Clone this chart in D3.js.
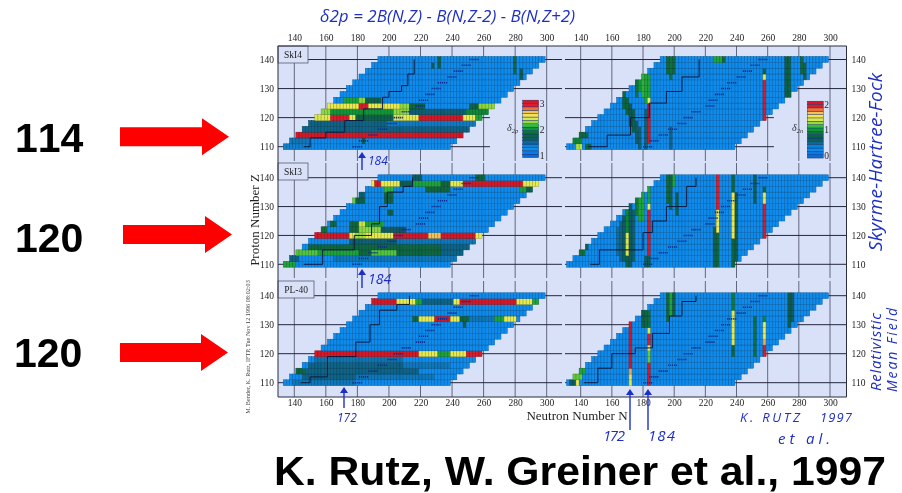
<!DOCTYPE html>
<html>
<head>
<meta charset="utf-8">
<script src="https://cdn.jsdelivr.net/npm/d3@7"></script>
<style>
html, body { margin: 0; padding: 0; background: white; }
svg { display: block; }
</style>
</head>
<body>
<div id="chart"></div>
<script>
// rows of the nuclear chart and where each row starts / stops
var zRows = [110,112,114,116,118,120,122,124,126,128,130,132,134,136,138,140];
var firstNLeft = [134,138,142,146,150,154,158,162,166,170,174,178,182,186,190,194];
var firstNRight = [132,136,140,144,148,152,156,160,164,168,172,176,180,184,188,192];
var lastN = [238,242,246,250,254,258,262,266,270,274,278,282,286,290,294,298];
var nTicks = [140,160,180,200,220,240,260,280,300];
var zTicks = [110,120,130,140];

// row runs are [Z, N from, N to, value], column runs are [N, Z from, Z to, value]
var ski4ProtonRows = [
  [110,134,152,1.35],[112,136,150,1.4],
  [114,140,250,3],
  [116,146,254,1.5],[118,150,200,1.5],[118,200,258,1.38],
  [120,152,164,2.4],[120,164,176,2.95],[120,176,180,2.4],[120,180,204,1.75],[120,204,220,2.42],[120,220,248,3],[120,248,256,2.42],[120,256,260,2.05],
  [122,156,164,2.25],[122,164,204,2.0],[122,204,214,2.25],[122,214,250,1.55],[122,250,264,1.95],
  [124,160,182,2.42],[124,182,188,2.95],[124,188,208,2.42],[124,208,214,2.25],[124,214,224,1.8],[124,252,258,1.75],[124,258,268,2.25],
  [126,172,182,2.05],[126,182,186,2.25],[126,186,196,1.75]
];
var ski4ProtonCols = [[184,112,118,1.7],[174,118,120,1.7],[232,138,140,1.75],[228,138,138,1.7],[280,136,140,1.8],[284,134,136,1.7]];

var ski3ProtonRows = [
  [110,132,142,2.05],[112,136,144,1.5],[112,166,256,1.4],
  [114,140,156,2.18],[114,156,182,2.05],[114,182,190,1.8],[114,190,206,2.18],[114,206,234,1.8],[114,234,250,1.5],
  [116,150,234,1.8],[116,234,252,1.5],
  [118,176,206,1.55],[118,206,256,1.4],
  [120,154,176,3],[120,176,180,2.42],[120,180,186,2.28],[120,186,204,2.42],[120,204,226,3],[120,226,234,2.65],[120,234,256,3],[120,256,260,2.42],
  [122,156,162,1.85],[122,176,182,1.8],[122,182,196,2.25],[122,196,212,1.6],
  [124,164,168,1.8],[124,176,182,1.8],[124,182,186,2.35],[124,186,198,2.05],
  [128,200,204,1.7],
  [132,176,180,2.2],[132,180,186,1.75],[132,198,204,1.75],
  [134,180,186,1.55],[134,198,204,1.8],
  [136,198,204,2.1],[136,224,240,1.8],[136,284,288,2.05],[136,288,292,1.7],
  [138,186,192,2.42],[138,192,196,3],[138,196,208,2.42],[138,208,216,1.7],[138,216,234,2.05],[138,234,240,1.8],[138,240,248,2.42],[138,248,286,3],[138,286,296,2.42],
  [140,216,222,1.6],[140,256,262,1.8]
];
var ski3ProtonCols = [];

var pl40ProtonRows = [
  [110,140,180,1.4],[112,146,180,1.5],[112,180,230,1.4],
  [114,142,148,1.8],[114,148,220,1.5],
  [116,150,210,1.5],[116,210,240,1.4],[118,154,210,1.42],
  [120,154,220,3],[120,220,232,2.42],[120,232,240,2.05],[120,240,250,2.42],[120,250,260,2.95],
  [130,248,250,1.7],
  [132,216,220,1.8],[132,220,230,2.42],[132,230,240,3],[132,240,246,2.42],[132,246,252,1.8],[132,252,268,1.4],[132,268,274,2.05],[132,274,282,2.42],
  [138,190,206,3],[138,206,218,2.42],[138,218,222,2.05],[138,222,242,1.5],[138,242,246,2.42],[138,246,282,3],[138,282,292,2.42],[138,292,296,2.05]
];
var pl40ProtonCols = [];

var ski4NeutronRows = [
  [110,138,142,1.3],[110,144,148,.8],
  [112,136,142,.95],[114,140,146,.8],
  [140,226,232,1.05],[140,232,234,.8]
];
var ski4NeutronCols = [
  [184,112,124,2],[184,126,126,1.45],[184,128,134,1.05],[182,126,136,1.05],[180,128,136,1.1],[178,130,136,1.0],[176,128,134,.85],
  [258,120,132,1.95],[258,134,134,1.45],[258,136,136,.8],
  [198,110,116,.5],[196,136,140,.8],[198,134,140,.85],[200,136,140,.8],
  [272,128,140,.7],[274,128,140,.75],[282,136,140,.8],[284,134,138,.75],
  [168,124,128,.8],[170,122,126,.8],[172,118,124,.65],[174,116,122,.7],[176,112,118,.6],[178,110,116,.55],[182,110,122,.55]
];

var ski3NeutronRows = [[114,140,144,.85],[116,142,146,.7]];
var ski3NeutronCols = [
  [182,110,112,.6],[184,110,112,.7],[184,114,128,2],[184,130,130,1.45],[184,132,136,1.05],
  [178,126,134,1.05],[180,126,134,1.05],[176,128,134,.9],
  [228,130,140,1.95],[228,122,128,1.45],[228,110,120,.8],[226,110,122,.7],
  [238,136,140,.8],[238,120,134,1.45],[238,110,118,.8],[240,110,134,.7],
  [258,120,130,1.95],[258,132,134,1.45],[258,136,136,.8],
  [170,114,120,1.4],[170,110,112,.75],[170,122,128,.95],[168,112,126,.6],[172,110,130,.6],[166,112,124,.5],[164,114,122,.45],[174,112,128,.55],
  [196,132,140,.8],[198,130,140,.75],[202,128,134,.7],[252,132,140,.7],[200,138,140,1.05]
];

var pl40NeutronRows = [[110,138,140,1.45],[110,134,138,.6],[112,136,142,1.2],[114,140,144,1.05]];
var pl40NeutronCols = [
  [172,116,130,2],[172,114,114,1.7],[172,112,112,1.55],[172,110,110,1.4],
  [184,110,116,2],[184,118,120,1.2],[184,122,122,1.45],[184,124,126,1.95],[184,128,128,1.4],[184,130,134,.85],[182,130,136,.8],[180,130,136,.7],
  [238,136,140,.9],[238,124,134,1.42],[238,120,122,.8],[252,120,132,.85],
  [258,120,122,1.95],[258,124,124,1.7],[258,126,130,1.45],[258,132,132,.95],
  [196,132,140,.8],[198,134,140,1.05],[200,134,140,.7],[274,130,140,.7],[276,132,140,.6]
];

// stepped dark line through each panel, N and Z of the corners
var stepN = [
  [146,150,160,172,184,196,200,208,212,216],
  [146,158,178,189,194,199,209,215],
  [144,150,161,179,188,194,205,213],
  [145,157,172,184,195,205,216],
  [146,152,180,186,195,208,214],
  [142,151,160,175,186,197,205,214]
];
var stepZ = [
  [110,113,115,119,123,127,129,131,135,140],
  [110,115,120,124,130,135,137,140],
  [110,112,119,124,130,135,137,140],
  [110,114,120,125,129,134,140],
  [110,115,121,125,130,137,140],
  [110,115,120,122,127,133,138,140]
];
// dotted stability line
var betaN = [180,184,190,196,202,206,211,220,222,226,230,234,240,244,249,254];

var panelNames = ["SkI4","SkI3","PL-40"];
var panelBoxWidth = [30,30,36];
var panelBand = [[46,161],[163,278],[281,397]];
var rowPixel = [[59.5,146.7],[177.7,264.3],[295.7,382.7]];
var rowData = [ski4ProtonRows,ski3ProtonRows,pl40ProtonRows,ski4NeutronRows,ski3NeutronRows,pl40NeutronRows];
var colData = [ski4ProtonCols,ski3ProtonCols,pl40ProtonCols,ski4NeutronCols,ski3NeutronCols,pl40NeutronCols];

var colorStops = [0,.1,.18,.25,.32,.42,.5,.58,.64,.72,.8,.87,.93,1];
var colorValues = ["#0868d8","#0c8cf0","#0c80d0","#0a6488","#0a5a58","#0c6c3c","#109838","#40c040","#a8e040","#f0ec50","#f4d860","#f09840","#e02030","#d81828"];
var color = d3.scaleLinear().domain(colorStops).range(colorValues).clamp(true);

var width = 902, height = 493;
var svg = d3.select("#chart").append("svg").attr("width", width).attr("height", height);

svg.append("defs").append("filter").attr("id", "scan")
  .attr("filterUnits", "userSpaceOnUse").attr("x", 0).attr("y", 0).attr("width", width).attr("height", height)
  .append("feGaussianBlur").attr("stdDeviation", 0.55);

var chart = svg.append("g").attr("filter", "url(#scan)");

chart.append("rect").attr("x", 278).attr("y", 46).attr("width", 568.5).attr("height", 351).attr("fill", "#d9e1f9");

function drawPanel(col, row) {
  var isLeft = col === 0;
  var x = d3.scaleLinear().domain([140,300]).range(isLeft ? [294.3,546.7] : [580.7,830]);
  var y = d3.scaleLinear().domain([140,110]).range(rowPixel[row]);
  var band = panelBand[row];
  var xEdge = isLeft ? [278,562] : [565,846.5];
  var g = chart.append("g");
  var runs = rowData[col * 3 + row], cols = colData[col * 3 + row];
  var base = isLeft ? 1.2 : 0.2;
  var low = isLeft ? 1 : 0;

  // grid
  g.selectAll(".v").data(nTicks).enter().append("line")
    .attr("x1", x).attr("x2", x).attr("y1", band[0]).attr("y2", band[1])
    .attr("stroke", "#62667c").attr("stroke-width", 1);
  g.selectAll(".h").data(zTicks).enter().append("line")
    .attr("x1", xEdge[0])
    .attr("x2", function(z) { return (row === 0 && z < 130) ? x(264) : xEdge[1]; })
    .attr("y1", y).attr("y2", y)
    .attr("stroke", "#23263a").attr("stroke-width", 1);

  var cells = [];
  zRows.forEach(function(z, i) {
    var first = isLeft ? firstNLeft[i] : firstNRight[i];
    d3.range(first, lastN[i] + 1, 2).forEach(function(n) {
      var v = base;
      cols.forEach(function(c) { if (c[0] === n && z >= c[1] && z <= c[2]) v = c[3]; });
      runs.forEach(function(r) { if (r[0] === z && n >= r[1] && n < r[2]) v = r[3]; });
      cells.push({n: n, z: z, v: v});
    });
  });

  g.selectAll(".cell").data(cells).enter().append("rect")
    .attr("x", function(d) { return x(d.n - 1); })
    .attr("y", function(d) { return y(d.z + 1); })
    .attr("width", function(d) { return x(d.n + 1) - x(d.n - 1); })
    .attr("height", function(d) { return y(d.z - 1) - y(d.z + 1); })
    .attr("fill", function(d) { return color((d.v - low) / 2); })
    .attr("stroke", function(d) { return d3.color(color((d.v - low) / 2)).darker(1.1); })
    .attr("stroke-width", 0.5);

  // stability line
  g.selectAll(".beta").data(zRows).enter().append("line")
    .attr("x1", function(z, i) { return x(betaN[i] + (isLeft ? -3 : 0)); })
    .attr("x2", function(z, i) { return x(betaN[i] + (isLeft ? 3 : 6)); })
    .attr("y1", y).attr("y2", y)
    .attr("stroke", "#0a2a90").attr("stroke-width", 1.6).attr("stroke-dasharray", "1.2 0.8");

  // stepped line
  var idx = col * 3 + row;
  var line = d3.line().curve(d3.curveStepAfter)
    .x(function(d) { return x(d[0]); }).y(function(d) { return y(d[1]); });
  g.append("path").attr("d", line(d3.zip(stepN[idx], stepZ[idx])))
    .attr("fill", "none").attr("stroke", "#0b1a40").attr("stroke-width", 1);

  // axes, tick labels only
  if (row === 0) {
    g.append("g").attr("transform", "translate(0,46)").call(d3.axisTop(x).tickValues(nTicks).tickSize(0).tickPadding(5)).call(tidyAxis);
  }
  if (row === 2) {
    g.append("g").attr("transform", "translate(0,397)").call(d3.axisBottom(x).tickValues(nTicks).tickSize(0).tickPadding(2)).call(tidyAxis);
  }
  if (isLeft) {
    g.append("g").attr("transform", "translate(278,0)").call(d3.axisLeft(y).tickValues(zTicks).tickSize(0).tickPadding(4)).call(tidyAxis);
    g.append("rect").attr("x", 278).attr("y", band[0]).attr("width", panelBoxWidth[row]).attr("height", 17)
      .attr("fill", "#d9e1f9").attr("stroke", "#555a70").attr("stroke-width", 0.8);
    g.append("text").attr("x", 278 + panelBoxWidth[row] / 2).attr("y", band[0] + 12).attr("text-anchor", "middle")
      .attr("font-family", "Liberation Serif").attr("font-size", 9.5).attr("fill", "#222").text(panelNames[row]);
  } else {
    g.append("g").attr("transform", "translate(846.5,0)").call(d3.axisRight(y).tickValues(zTicks).tickSize(0).tickPadding(5)).call(tidyAxis);
  }
}

function tidyAxis(sel) {
  sel.select(".domain").remove();
  sel.selectAll("text").attr("font-family", "Liberation Serif").attr("font-size", 9.5).attr("fill", "#222");
}

[0,1].forEach(function(col) {
  [0,1,2].forEach(function(row) { drawPanel(col, row); });
});

// frame
[[278,46,846.5,46],[846.5,46,846.5,397],[278,397,846.5,397],[278,46,278,397]].forEach(function(f) {
  chart.append("line").attr("x1", f[0]).attr("y1", f[1]).attr("x2", f[2]).attr("y2", f[3])
    .attr("stroke", "#2b2d3d").attr("stroke-width", 1);
});

// colour bars
var legendLow = [1,0];
var legendX = [522.7,807.3];
var legendPixel = [[155,103],[155.5,104]];
var legendBands = d3.range(-0.1, 2.1, 0.13);
var legendNames = ["δ","δ"];
var legendSubs = ["2p","2n"];
var legendNameX = [507,792];
[0,1].forEach(function(i) {
  var ly = d3.scaleLinear().domain([legendLow[i], legendLow[i] + 2]).range(legendPixel[i]);
  var g = chart.append("g");
  g.selectAll("rect").data(legendBands).enter().append("rect")
    .attr("x", legendX[i]).attr("width", 16)
    .attr("y", function(d) { return ly(legendLow[i] + d + 0.13); })
    .attr("height", function(d) { return ly(legendLow[i] + d) - ly(legendLow[i] + d + 0.13); })
    .attr("fill", function(d) { return color((d + 0.06) / 2); })
    .attr("stroke", "#0a2a66").attr("stroke-width", 0.4);
  g.append("g").attr("transform", "translate(" + (legendX[i] + 16) + ",0)")
    .call(d3.axisRight(ly).tickValues([legendLow[i], legendLow[i] + 1, legendLow[i] + 2]).tickFormat(d3.format("d")).tickSize(0).tickPadding(1))
    .call(tidyAxis);
  var t = g.append("text").attr("x", legendNameX[i]).attr("y", 131)
    .attr("font-family", "Liberation Serif").attr("font-style", "italic").attr("font-size", 10).attr("fill", "#333");
  t.append("tspan").text(legendNames[i]);
  t.append("tspan").attr("dy", 2).attr("font-size", 6.5).text(legendSubs[i]);
});

// axis titles
chart.append("text").attr("x", 577).attr("y", 420).attr("text-anchor", "middle")
  .attr("font-family", "Liberation Serif").attr("font-size", 13).attr("fill", "#222").text("Neutron Number N");
chart.append("text").attr("transform", "translate(259,220) rotate(-90)").attr("text-anchor", "middle")
  .attr("font-family", "Liberation Serif").attr("font-size", 13).attr("fill", "#222").text("Proton Number Z");
chart.append("text").attr("transform", "translate(250,347) rotate(-90)").attr("text-anchor", "middle")
  .attr("font-family", "Liberation Serif").attr("font-size", 6.2).attr("fill", "#444").text("M. Bender, K. Rutz, IFTP, Tue Nov 12 1996 08:02:03");

// pen notes
var penColor = "#1f2fc4";
var notes = [
  {text: "δ2p = 2B(N,Z) - B(N,Z-2) - B(N,Z+2)", x: 320, y: 22, size: 17, len: 255},
  {text: "184", x: 368, y: 165, size: 12},
  {text: "184", x: 368, y: 284, size: 14},
  {text: "172", x: 337, y: 422, size: 12},
  {text: "172", x: 603, y: 441, size: 15, len: 22},
  {text: "184", x: 648, y: 441, size: 15, len: 27},
  {text: "K. RUTZ", x: 740, y: 422, size: 13, len: 60},
  {text: "1997", x: 820, y: 422, size: 13, len: 32},
  {text: "et al.", x: 778, y: 444, size: 15, len: 52}
];
notes.forEach(function(d) {
  var t = chart.append("text").attr("x", d.x).attr("y", d.y)
    .attr("font-family", "Open Sans").attr("font-style", "italic").attr("font-size", d.size)
    .attr("fill", penColor).text(d.text);
  if (d.len) t.attr("textLength", d.len);
});
var sideNotes = [
  {text: "Skyrme-Hartree-Fock", x: 882, y: 162, size: 19, len: 178},
  {text: "Relativistic", x: 881, y: 352, size: 15, len: 78},
  {text: "Mean Field", x: 897, y: 350, size: 14, len: 84}
];
sideNotes.forEach(function(d) {
  chart.append("text").attr("transform", "translate(" + d.x + "," + d.y + ") rotate(-90)")
    .attr("text-anchor", "middle").attr("font-family", "Open Sans").attr("font-style", "italic")
    .attr("font-size", d.size).attr("textLength", d.len).attr("fill", penColor).text(d.text);
});
// pen arrows [x, tail y, tip y]
var penArrows = [[362,170,152],[362,288,269],[344,408,387],[630,430,389],[648,430,389]];
penArrows.forEach(function(a) {
  chart.append("line").attr("x1", a[0]).attr("x2", a[0]).attr("y1", a[1]).attr("y2", a[2] + 3)
    .attr("stroke", penColor).attr("stroke-width", 1.4);
  chart.append("path").attr("d", "M" + (a[0] - 4) + "," + (a[2] + 6) + "L" + a[0] + "," + a[2] + "L" + (a[0] + 4) + "," + (a[2] + 6) + "Z")
    .attr("fill", penColor);
});

// big slide labels and red arrows
var slideLabels = ["114","120","120"];
var labelX = [15,15,14];
var labelBase = [152,252,367];
var arrowTail = [120,123,120];
var arrowNeck = [202,205,201];
var arrowTip = [229,232,228];
var arrowY = [136.7,234.5,352.5];
slideLabels.forEach(function(s, i) {
  svg.append("text").attr("x", labelX[i]).attr("y", labelBase[i]).style("font-kerning", "none")
    .attr("font-family", "Liberation Sans").attr("font-weight", "bold").attr("font-size", 41).attr("fill", "black").text(s);
  var c = arrowY[i];
  var pts = [[arrowTail[i],c-9.5],[arrowNeck[i],c-9.5],[arrowNeck[i],c-18.5],[arrowTip[i],c],[arrowNeck[i],c+18.5],[arrowNeck[i],c+9.5],[arrowTail[i],c+9.5]];
  svg.append("polygon").attr("points", pts.join(" ")).attr("fill", "#ff0000");
});
svg.append("text").attr("x", 274).attr("y", 484.5)
  .attr("font-family", "Liberation Sans").attr("font-weight", "bold").attr("font-size", 40).attr("fill", "black")
  .attr("textLength", 612).attr("lengthAdjust", "spacingAndGlyphs")
  .text("K. Rutz, W. Greiner et al., 1997");
</script>
</body>
</html>
